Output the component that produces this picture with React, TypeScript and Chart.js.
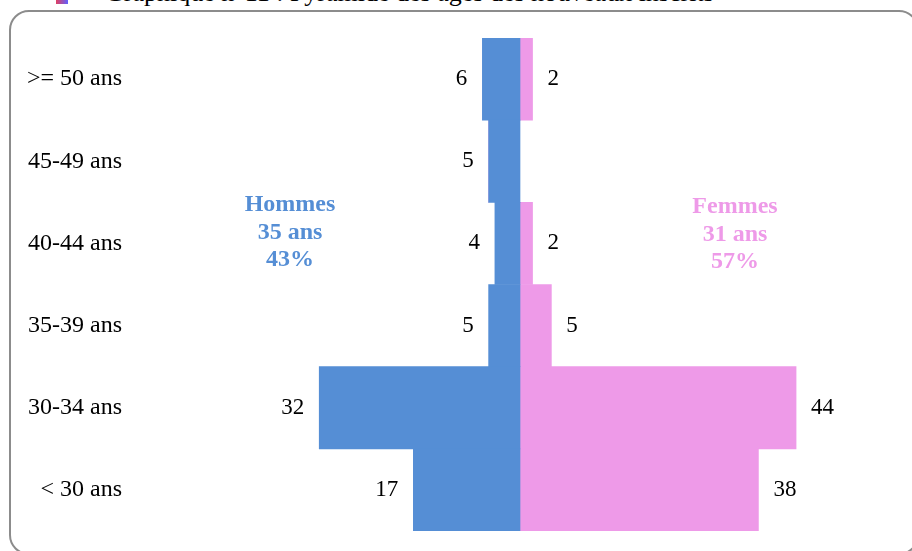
import React, { useEffect, useRef } from "react";
import { Chart, registerables } from "chart.js";

Chart.register(...registerables);

const categories = [">= 50 ans", "45-49 ans", "40-44 ans", "35-39 ans", "30-34 ans", "< 30 ans"];
const hommes = [6, 5, 4, 5, 32, 17];
const femmes = [2, 0, 2, 5, 44, 38];
const hommesNote = ["Hommes", "35 ans", "43%"];
const femmesNote = ["Femmes", "31 ans", "57%"];
const titleText = "Graphique n°11 : Pyramide des âges des nouveaux inscrits";

const BLUE = "#558ed5";
const PINK = "#ee9ae8";
const SERIF = "'Liberation Serif', 'Times New Roman', serif";

export default function App() {
  const ref = useRef<HTMLCanvasElement | null>(null);

  useEffect(() => {
    document.body.style.margin = "0";
    const canvas = ref.current;
    if (!canvas) return;

    const valueLabels = {
      id: "valueLabels",
      afterDatasetsDraw(chart: any) {
        const ctx = chart.ctx;
        ctx.save();
        ctx.font = `23px ${SERIF}`;
        ctx.fillStyle = "#000";
        ctx.textBaseline = "middle";
        chart.data.datasets.forEach((ds: any, di: number) => {
          const meta = chart.getDatasetMeta(di);
          meta.data.forEach((bar: any, i: number) => {
            const v = Math.abs(ds.data[i]);
            if (!v) return;
            if (di === 0) {
              ctx.textAlign = "right";
              ctx.fillText(String(v), bar.x - 15, bar.y);
            } else {
              ctx.textAlign = "left";
              ctx.fillText(String(v), bar.x + 15, bar.y);
            }
          });
        });
        // annotations
        ctx.font = `bold 24px ${SERIF}`;
        ctx.textAlign = "center";
        ctx.fillStyle = BLUE;
        hommesNote.forEach((t, i) => ctx.fillText(t, 290, 205 + i * 27.5));
        ctx.fillStyle = PINK;
        femmesNote.forEach((t, i) => ctx.fillText(t, 735, 207 + i * 27.5));
        ctx.restore();
      },
    };

    const chart = new Chart(canvas, {
      type: "bar",
      data: {
        labels: categories,
        datasets: [
          {
            label: "Hommes",
            data: hommes.map((v) => -v),
            backgroundColor: BLUE,
            categoryPercentage: 1,
            barPercentage: 1,
            borderWidth: 0,
          },
          {
            label: "Femmes",
            data: femmes,
            backgroundColor: PINK,
            categoryPercentage: 1,
            barPercentage: 1,
            borderWidth: 0,
          },
        ],
      },
      options: {
        indexAxis: "y",
        animation: false,
        responsive: false,
        maintainAspectRatio: false,
        layout: { padding: { top: 38, bottom: 20, right: 3, left: 0 } },
        plugins: {
          legend: { display: false },
          tooltip: { enabled: false },
          title: { display: false },
        },
        scales: {
          x: {
            stacked: true,
            display: false,
            min: -62,
            max: 62,
          },
          y: {
            stacked: true,
            grid: { display: false, drawTicks: false },
            border: { display: false },
            ticks: {
              color: "#000",
              font: { family: SERIF, size: 24 },
              padding: 9,
            },
            afterFit(scale: any) {
              scale.width = 131;
              scale.paddingTop = 0;
              scale.paddingBottom = 0;
            },
          },
        },
      },
      plugins: [valueLabels],
    } as any);

    return () => chart.destroy();
  }, []);

  return (
    <div style={{ position: "relative", width: 912, height: 551, overflow: "hidden", background: "#fff" }}>
      <div
        style={{
          position: "absolute",
          left: 9,
          top: 10,
          width: 910,
          height: 545,
          border: "2px solid #8c8c8c",
          borderRadius: 20,
          boxSizing: "border-box",
        }}
      />
      <div
        style={{
          position: "absolute",
          left: 56,
          top: -2,
          width: 12,
          height: 6,
          background: "linear-gradient(90deg, #e04060, #6060ff)",
        }}
      />
      <div
        style={{
          position: "absolute",
          left: 105,
          top: -22,
          fontFamily: SERIF,
          fontSize: 26,
          whiteSpace: "nowrap",
          color: "#000",
        }}
      >
        {titleText}
      </div>
      <canvas ref={ref} width={912} height={551} style={{ position: "absolute", left: 0, top: 0 }} />
    </div>
  );
}
